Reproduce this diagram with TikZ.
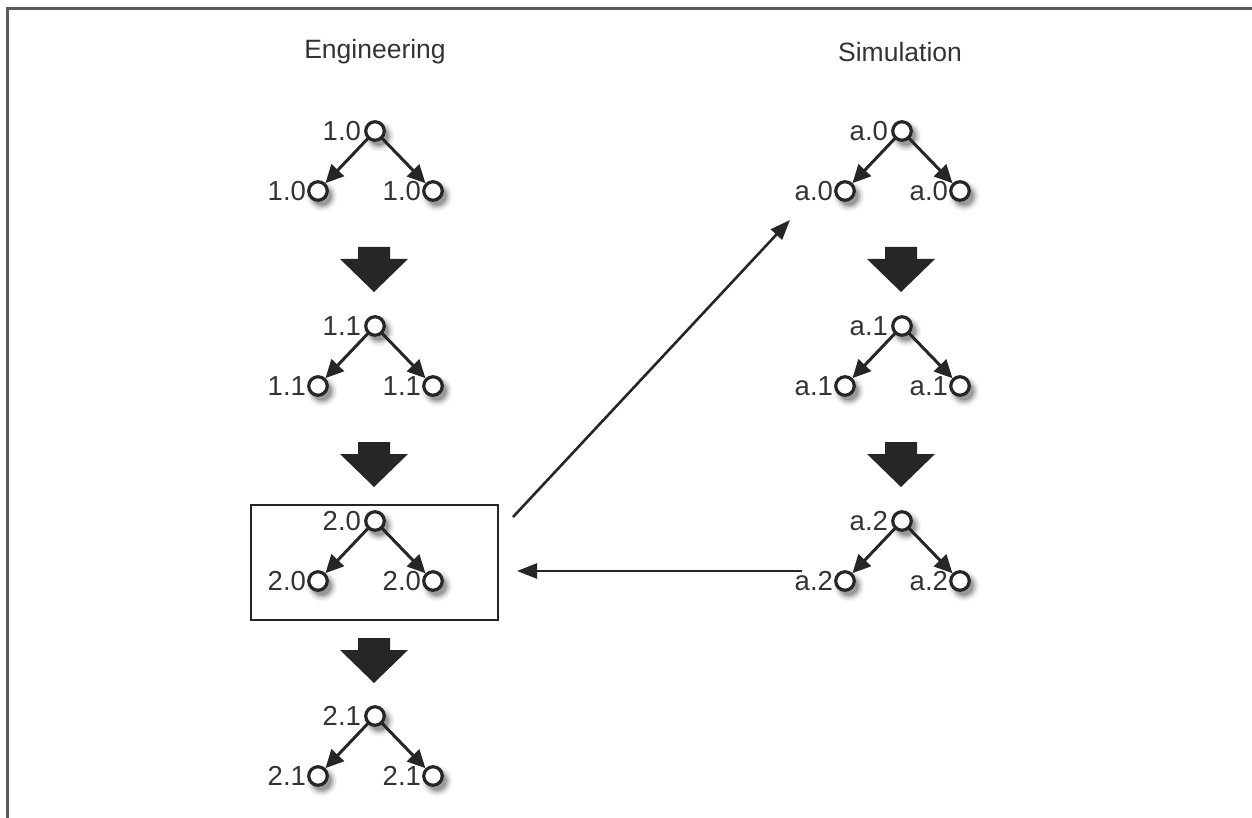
\documentclass[tikz,border=0pt]{standalone}
\usepackage{fontspec}
\setmainfont{Liberation Sans}
\usetikzlibrary{arrows.meta}
\definecolor{ink}{HTML}{262626}
\definecolor{txt}{HTML}{333333}
\definecolor{framegray}{HTML}{5A5A5A}

% soft shadow under a tree dot
\newcommand\dotshade[2]{%
  \foreach \r/\o in {15.5/0.04,14/0.06,12.5/0.09,11/0.12,9.5/0.16}{%
    \fill[black,opacity=\o] ({#1+4},{#2+5}) circle (\r pt);}}

% one small tree: root with two children
% #1 name, #2 root x, #3 root y, #4 label
\newcommand\smalltree[4]{%
  \dotshade{#2}{#3}\dotshade{#2-57}{#3+60}\dotshade{#2+58}{#3+60}
  \node[dot] (#1r) at (#2,#3) {};
  \node[dot] (#1l) at ({#2-57},{#3+60}) {};
  \node[dot] (#1c) at ({#2+58},{#3+60}) {};
  \node[lbl,anchor=east] (#1rt) at ([xshift=-2pt]#1r.west) {#4};
  \node[lbl,anchor=east] (#1lt) at (#1l.west) {#4};
  \node[lbl,anchor=east] (#1ct) at (#1c.west) {#4};
  \draw[treeedge] (#1r) -- (#1l);
  \draw[treeedge] (#1r) -- (#1c);
}

% thick block arrow pointing down, #1 centre x, #2 top y
\newcommand\blockarrow[2]{%
  \fill[ink] ({#1-16},{#2}) -- ({#1+16},{#2}) -- ({#1+16},{#2+12})
    -- ({#1+34},{#2+12}) -- ({#1},{#2+45}) -- ({#1-34},{#2+12})
    -- ({#1-16},{#2+12}) -- cycle;}

\begin{document}
\begin{tikzpicture}[x=1pt,y=-1pt,
  dot/.style={circle,draw=ink,line width=3.2pt,fill=white,minimum size=18.5pt,inner sep=0pt},
  lbl/.style={text=txt,font=\fontsize{27.5}{30}\selectfont,inner sep=1pt},
  heading/.style={text=txt,font=\fontsize{26.5}{28}\selectfont,inner sep=0pt},
  treeedge/.style={draw=ink,line width=3pt,shorten <=-1pt,-{Triangle[length=18pt,width=17pt]}},
  link/.style={draw=ink,line width=2.6pt,-{Triangle[length=20pt,width=15pt]}},
  selbox/.style={draw=ink,line width=2.4pt,minimum width=247pt,minimum height=115pt,inner sep=0pt}]
\useasboundingbox (0,0) rectangle (1252,818);
\clip (0,0) rectangle (1252,818);

% outer frame
\draw[framegray,line width=3pt] (7,840) -- (7,9) -- (1270,9);

% column headings
\node[heading] (eng) at (375,52) {Engineering};
\node[heading] (sim) at (900,52) {Simulation};

% engineering column
\smalltree{e10}{375}{131}{1.0}
\smalltree{e11}{375}{326}{1.1}
\smalltree{e20}{375}{521}{2.0}
\smalltree{e21}{375}{716}{2.1}
\blockarrow{374}{247}
\blockarrow{374}{442}
\blockarrow{374}{638}

% simulation column
\smalltree{sa0}{902}{131}{a.0}
\smalltree{sa1}{902}{326}{a.1}
\smalltree{sa2}{902}{521}{a.2}
\blockarrow{901}{247}
\blockarrow{901}{442}

% highlighted release
\node[selbox] (box) at (374.5,562.5) {};

% hand-over between the two columns
\coordinate (outStart) at (513,517);
\coordinate (outEnd) at (790,220);
\coordinate (backStart) at (802,571);
\coordinate (backEnd) at (517,571);
\draw[link] (outStart) -- (outEnd);
\draw[link] (backStart) -- (backEnd);
\end{tikzpicture}
\end{document}
